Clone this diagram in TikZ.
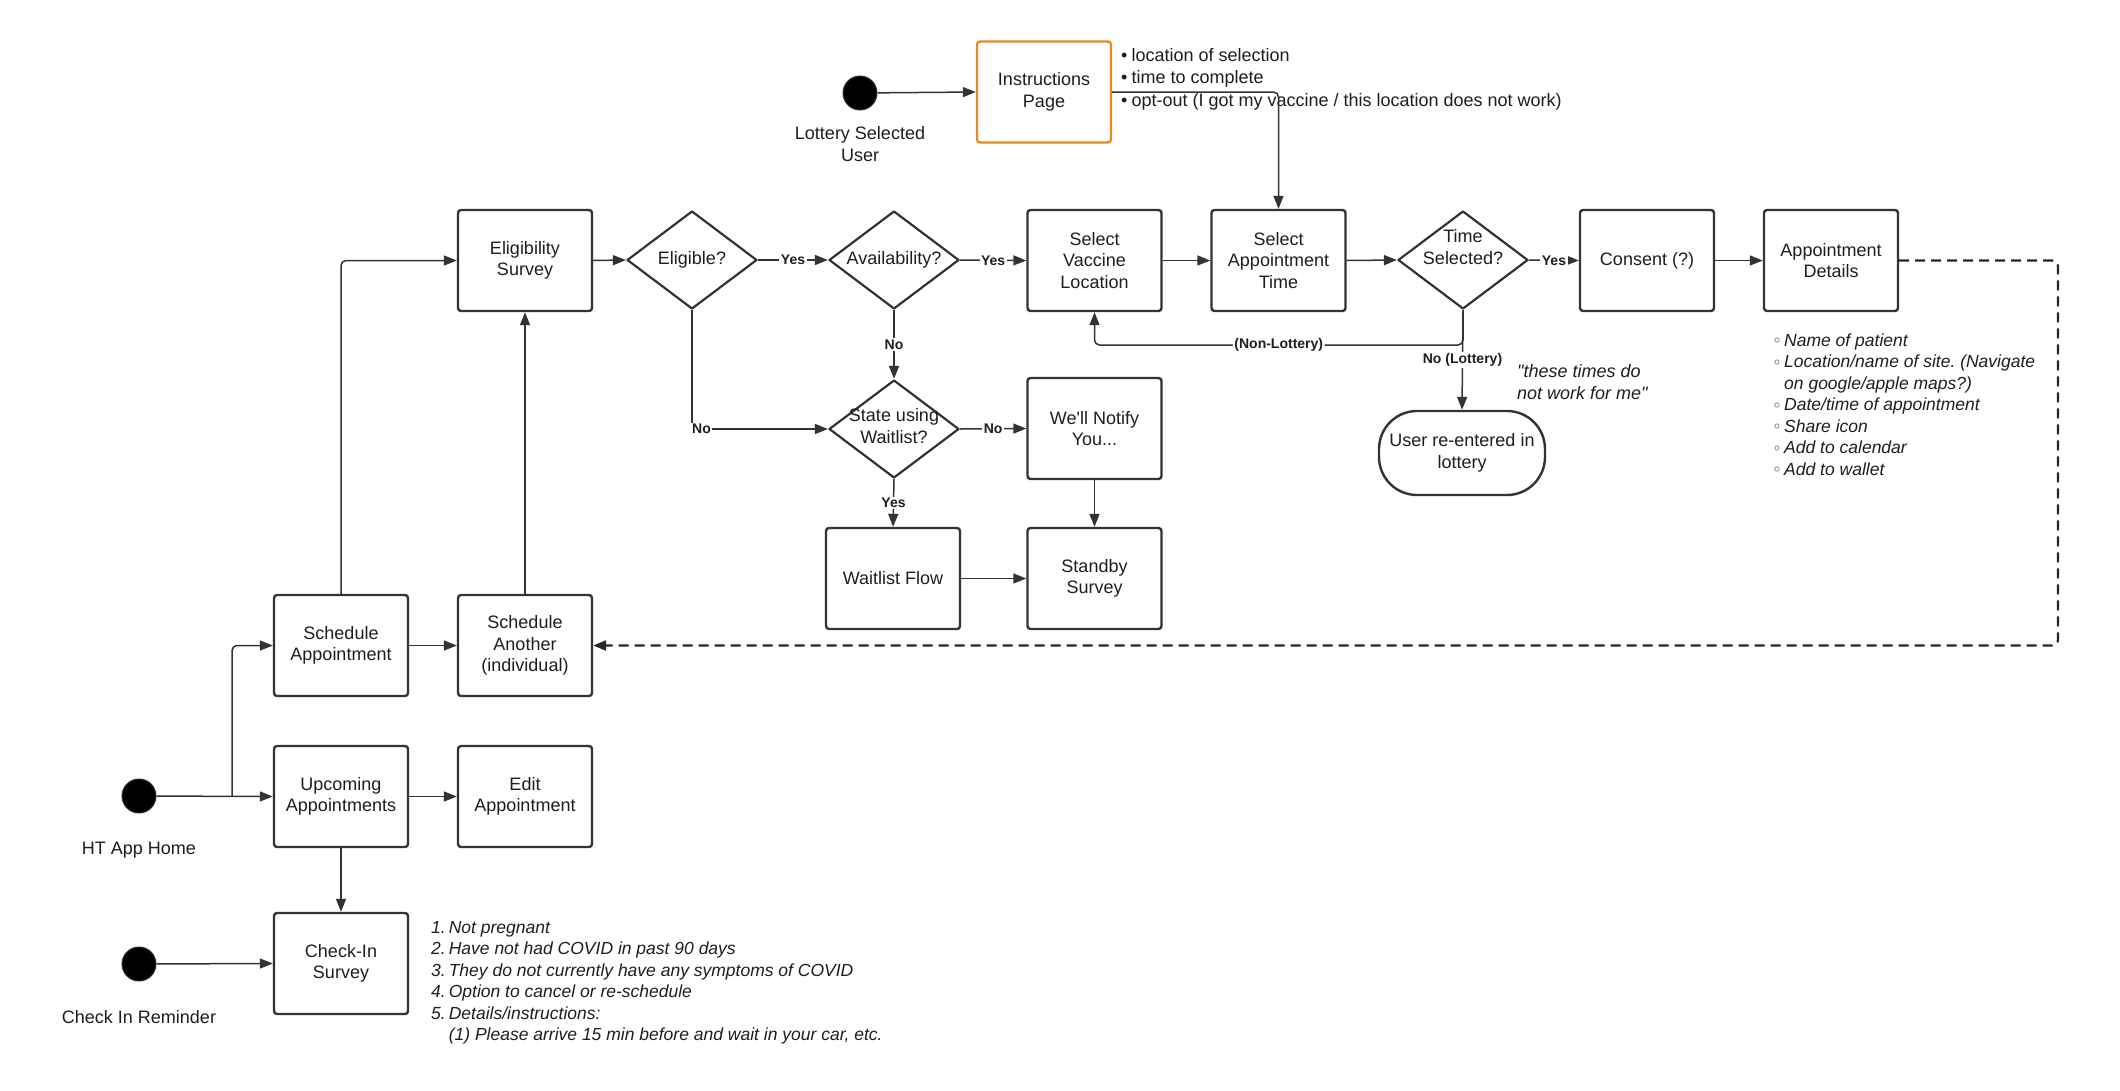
\documentclass[tikz,border=0pt]{standalone}
\usepackage{fontspec}
\setmainfont{Liberation Sans}[Ligatures=TeXOff]
\usetikzlibrary{shapes.geometric,arrows.meta}
\definecolor{ln}{HTML}{333333}
\definecolor{txt}{HTML}{1E1E1E}
\definecolor{org}{HTML}{E68A1F}
\newcommand\fmain{\fontsize{18}{21.6}\selectfont}
\newcommand\flab{\fontsize{14}{16}\selectfont\bfseries}
\newcommand\fital{\fontsize{17.5}{21.5}\selectfont\itshape}
\newcommand\hb{\raisebox{2.5pt}{\fontsize{12}{12}\selectfont$\circ$}}
\frenchspacing
\begin{document}
\begin{tikzpicture}[x=1pt,y=-1pt,
  box/.style={draw=ln, line width=2.4pt, rounded corners=3pt, minimum width=134pt, minimum height=101pt, align=center, font=\fmain, inner sep=2pt, text=txt},
  dia/.style={diamond, draw=ln, line width=2.2pt, line join=round, minimum width=130pt, minimum height=98pt, inner sep=0pt},
  dot/.style={circle, fill=black, draw=ln, line width=1pt, minimum size=34pt, inner sep=0pt},
  arr/.style={draw=ln, line width=1.5pt, -{Triangle[length=13pt,width=10pt]}},
  dsh/.style={draw=black!85, line width=2.2pt, dash pattern=on 10pt off 6pt, -{Triangle[length=13pt,width=10pt]}},
  lab/.style={fill=white, font=\flab, inner sep=1.5pt, text=txt},
  dtxt/.style={font=\fmain, align=center, text=txt},
]
\fill[white] (0,0) rectangle (2120,1090);
\useasboundingbox (0,0) rectangle (2120,1090);

% ---- nodes ----
\node[dot] (lot) at (860,93) {};
\node[box, draw=org] (ins) at (1044,92) {Instructions\\Page};
\node[box] (es) at (525,260.5) {Eligibility\\Survey};
\node[dia, label={[dtxt]center:Eligible?}] (el) at (692,260) {};
\node[dia, label={[dtxt]center:Availability?}] (av) at (894,260) {};
\node[box] (svl) at (1094.5,260.5) {Select\\Vaccine\\Location};
\node[box] (sat) at (1278.5,260.5) {Select\\Appointment\\Time};
\node[dia, label={[dtxt, yshift=13pt]center:Time\\Selected?}] (ts) at (1463,260) {};
\node[box] (con) at (1647,260.5) {Consent (?)};
\node[box] (ad) at (1831,260.5) {Appointment\\Details};
\node[dia, label={[dtxt, yshift=3pt]center:State using\\Waitlist?}] (st) at (894,429) {};
\node[box] (wn) at (1094.5,428.5) {We'll Notify\\You...};
\node[box] (wf) at (893,578.5) {Waitlist Flow};
\node[box] (ss) at (1094.5,578.5) {Standby\\Survey};
\node[box, rounded corners=38pt, minimum width=166pt, minimum height=84pt] (ur) at (1462,453) {User re-entered in\\lottery};
\node[box] (sa) at (341,645.5) {Schedule\\Appointment};
\node[box] (sn) at (525,645.5) {Schedule\\Another\\(individual)};
\node[box] (up) at (341,796.5) {Upcoming\\Appointments};
\node[box] (ed) at (525,796.5) {Edit\\Appointment};
\node[box] (ci) at (341,963.5) {Check-In\\Survey};
\node[dot] (ht) at (139,796) {};
\node[dot] (cr) at (139,964) {};

% ---- text labels ----
\node[dtxt] (lotl) at (860,144) {Lottery Selected\\User};
\node[dtxt] (htl) at (139,850) {HT App Home};
\node[dtxt] (crl) at (139,1017) {Check In Reminder};
\node[anchor=north west, inner sep=0pt, text=txt, font=\fontsize{18}{22.6}\selectfont] (insl) at (1121,45)
  {\begin{tabular}{@{}l@{\hspace{4pt}}l@{}}
   • & location of selection\\
   • & time to complete\\
   • & opt-out (I got my vaccine / this location does not work)
   \end{tabular}};
\node[anchor=north west, inner sep=0pt, text=txt, font=\fital] (adl) at (1774,331)
  {\begin{tabular}{@{}l@{\hspace{4pt}}l@{}}
   \hb & Name of patient\\
   \hb & Location/name of site. (Navigate\\
       & on google/apple maps?)\\
   \hb & Date/time of appointment\\
   \hb & Share icon\\
   \hb & Add to calendar\\
   \hb & Add to wallet
   \end{tabular}};
\node[anchor=north west, inner sep=0pt, text=txt, font=\fital] (cil) at (431,918)
  {\begin{tabular}{@{}l@{\hspace{3pt}}l@{}}
   1. & Not pregnant\\
   2. & Have not had COVID in past 90 days\\
   3. & They do not currently have any symptoms of COVID\\
   4. & Option to cancel or re-schedule\\
   5. & Details/instructions:\\
      & (1) Please arrive 15 min before and wait in your car, etc.
   \end{tabular}};
\node[anchor=west, align=left, text=txt, font=\fontsize{18}{22}\selectfont\itshape, inner sep=0pt] (ttl) at (1517,382)
  {"these times do\\not work for me"};

% ---- connectors ----
\draw[arr] (lot) -- (ins.west);
\draw[arr, rounded corners=5pt] (ins.east) -| (sat.north);
\draw[arr] (es.east) -- (el.west);
\draw[arr] (el.east) -- node[lab]{Yes} (av.west);
\draw[arr] (av.east) -- node[lab]{Yes} (svl.west);
\draw[arr] (svl.east) -- (sat.west);
\draw[arr] (sat.east) -- (ts.west);
\draw[arr] (ts.east) -- node[lab]{Yes} (con.west);
\draw[arr] (con.east) -- (ad.west);
\draw[arr] (av.south) -- node[lab]{No} (st.north);
\draw[arr] (el.south) -- (el.south |- st.west) -- node[lab, pos=0.07]{No} (st.west);
\draw[arr] (st.east) -- node[lab]{No} (wn.west);
\draw[arr] (st.south) -- node[lab]{Yes} (wf.north);
\draw[arr] (wf.east) -- (ss.west);
\draw[arr] (wn.south) -- (ss.north);
\coordinate (nl) at (1463,345);
\draw[arr, rounded corners=5pt] (ts.south) -- (nl) -| node[lab, pos=0.25]{(Non-Lottery)} (svl.south);
\draw[arr] (ts.south) -- node[lab]{No (Lottery)} (ur.north);
\coordinate (dr) at (2058,260.5);
\draw[dsh, rounded corners=6pt] (ad.east) -- (dr) |- (sn.east);
\coordinate (br) at (232,796);
\draw[arr] (ht) -- (up.west);
\draw[arr, rounded corners=5pt] (br) |- (sa.west);
\draw[arr] (sa.east) -- (sn.west);
\draw[arr, rounded corners=5pt] (sa.north) |- (es.west);
\draw[arr] (sn.north) -- (es.south);
\draw[arr] (up.east) -- (ed.west);
\draw[arr] (up.south) -- (ci.north);
\draw[arr] (cr) -- (ci.west);
\end{tikzpicture}
\end{document}
